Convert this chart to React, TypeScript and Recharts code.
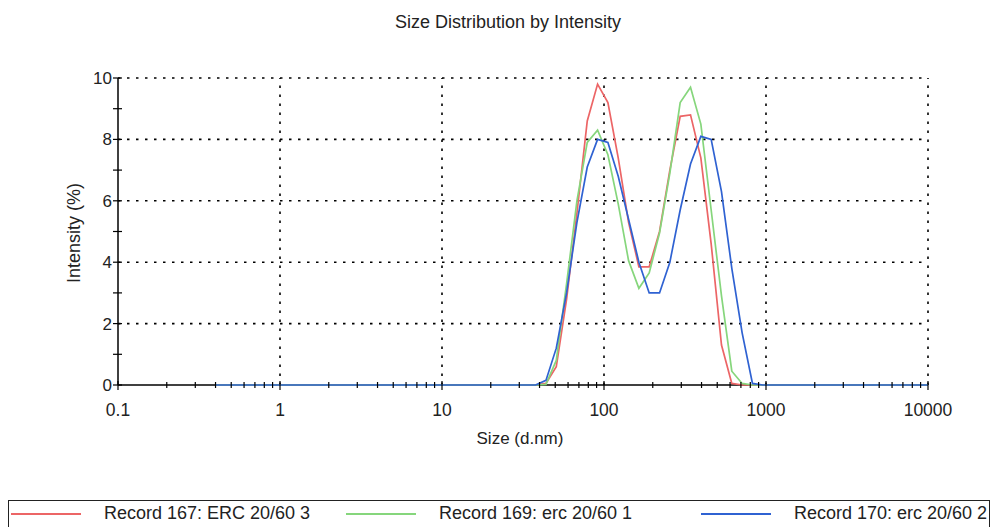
import React from 'react'
import { LineChart, Line, XAxis, YAxis, ReferenceLine } from 'recharts'

// size bins (d.nm)
const sizes = [
  0.4, 0.4632, 0.5365, 0.6213, 0.7195, 0.8332, 0.9649, 1.117, 1.294, 1.499,
  1.736, 2.01, 2.328, 2.696, 3.122, 3.615, 4.187, 4.849, 5.615, 6.503,
  7.531, 8.721, 10.1, 11.7, 13.54, 15.69, 18.17, 21.04, 24.36, 28.21,
  32.67, 37.84, 43.82, 50.75, 58.77, 68.06, 78.82, 91.28, 105.7, 122.4,
  141.8, 164.2, 190.1, 220.2, 255.0, 295.3, 342.0, 396.1, 458.7, 531.2,
  615.1, 712.4, 825.0, 955.4, 1106, 1281, 1484, 1718, 1990, 2305,
  2669, 3091, 3580, 4145, 4801, 5560, 6439, 7456, 8635, 10000,
]

// Intensity (%) per bin
const record167 = [
  0, 0, 0, 0, 0, 0, 0, 0, 0, 0,
  0, 0, 0, 0, 0, 0, 0, 0, 0, 0,
  0, 0, 0, 0, 0, 0, 0, 0, 0, 0,
  0, 0, 0.05, 0.6, 2.8, 5.6, 8.6, 9.8, 9.2, 7.4,
  5.3, 3.85, 3.85, 5.0, 7.0, 8.75, 8.8, 7.4, 4.6, 1.3,
  0.05, 0, 0, 0, 0, 0, 0, 0, 0, 0,
  0, 0, 0, 0, 0, 0, 0, 0, 0, 0,
]
const record169 = [
  0, 0, 0, 0, 0, 0, 0, 0, 0, 0,
  0, 0, 0, 0, 0, 0, 0, 0, 0, 0,
  0, 0, 0, 0, 0, 0, 0, 0, 0, 0,
  0, 0, 0.02, 0.8, 3.3, 6.0, 7.9, 8.3, 7.5, 5.9,
  4.05, 3.15, 3.65, 4.95, 6.9, 9.2, 9.7, 8.5, 5.7, 2.9,
  0.45, 0.05, 0, 0, 0, 0, 0, 0, 0, 0,
  0, 0, 0, 0, 0, 0, 0, 0, 0, 0,
]
const record170 = [
  0, 0, 0, 0, 0, 0, 0, 0, 0, 0,
  0, 0, 0, 0, 0, 0, 0, 0, 0, 0,
  0, 0, 0, 0, 0, 0, 0, 0, 0, 0,
  0, 0, 0.15, 1.2, 3.0, 5.3, 7.1, 8.0, 7.9, 6.8,
  5.4, 4.0, 3.0, 3.0, 4.0, 5.7, 7.2, 8.1, 8.0, 6.3,
  3.8, 1.7, 0.05, 0, 0, 0, 0, 0, 0, 0,
  0, 0, 0, 0, 0, 0, 0, 0, 0, 0,
]

const majorX = [0.1, 1, 10, 100, 1000, 10000]
const minorX = [
  0.2, 0.3, 0.4, 0.5, 0.6, 0.7, 0.8, 0.9,
  2, 3, 4, 5, 6, 7, 8, 9,
  20, 30, 40, 50, 60, 70, 80, 90,
  200, 300, 400, 500, 600, 700, 800, 900,
  2000, 3000, 4000, 5000, 6000, 7000, 8000, 9000,
]
const majorY = [0, 2, 4, 6, 8, 10]
const minorY = [1, 3, 5, 7, 9]
const gridX = [1, 10, 100, 1000, 10000]
const gridY = [2, 4, 6, 8, 10]

const series = [
  { key: 'r167', name: 'Record 167: ERC 20/60 3', color: '#ec6566', values: record167 },
  { key: 'r169', name: 'Record 169: erc 20/60 1', color: '#86d67c', values: record169 },
  { key: 'r170', name: 'Record 170: erc 20/60 2', color: '#2f62d2', values: record170 },
]
const legendLeft = [2, 337, 692]

const data = sizes.map((s, i) => {
  const row: any = { size: s }
  series.forEach(sr => { row[sr.key] = sr.values[i] })
  return row
})

const FONT = '"Liberation Sans", Arial, sans-serif'

function XTick({ x, y, payload }: any) {
  const major = majorX.includes(payload.value)
  if (!major) return <line x1={x} x2={x} y1={y - 3} y2={y + 3} stroke="#000" strokeWidth={1.2} />
  return (
    <g>
      <line x1={x} x2={x} y1={y - 4} y2={y + 5} stroke="#000" strokeWidth={1.2} />
      <text x={x} y={y + 31} textAnchor="middle" fontSize={17.5} fill="#222" fontFamily={FONT}>
        {String(payload.value)}
      </text>
    </g>
  )
}

function YTick({ x, y, payload }: any) {
  const major = majorY.includes(payload.value)
  return (
    <g>
      <line x1={x - 5} x2={x + 4} y1={y} y2={y} stroke="#000" strokeWidth={1.2} />
      {major && (
        <text x={x - 6} y={y + 6} textAnchor="end" fontSize={17} fill="#222" fontFamily={FONT}>
          {payload.value}
        </text>
      )}
    </g>
  )
}

export default function App() {
  return (
    <div style={{ position: 'absolute', left: 0, top: 0, width: 992, height: 527, background: '#fff', overflow: 'hidden', fontFamily: FONT }}>
      <div style={{ position: 'absolute', left: 0, width: 1016, top: 12, textAlign: 'center', fontSize: 18, color: '#222' }}>
        Size Distribution by Intensity
      </div>
      <div style={{ position: 'absolute', left: 74, top: 233, transform: 'translate(-50%, -50%) rotate(-90deg)', fontSize: 18, color: '#222', whiteSpace: 'nowrap' }}>
        Intensity (%)
      </div>
      <div style={{ position: 'absolute', left: 0, width: 1040, top: 429, textAlign: 'center', fontSize: 17, color: '#222' }}>
        Size (d.nm)
      </div>

      <LineChart width={992} height={470} data={data} margin={{ top: 78, right: 64, bottom: 45, left: 58 }}>
        <XAxis
          dataKey="size"
          type="number"
          scale="log"
          domain={[0.1, 10000]}
          ticks={[...majorX, ...minorX]}
          interval={0}
          allowDataOverflow
          height={40}
          tickSize={0}
          tickMargin={0}
          tickLine={false}
          tick={<XTick />}
          axisLine={{ stroke: '#000', strokeWidth: 1.5 }}
        />
        <YAxis
          type="number"
          domain={[0, 10]}
          ticks={[...majorY, ...minorY]}
          interval={0}
          width={60}
          tickSize={0}
          tickMargin={0}
          tickLine={false}
          tick={<YTick />}
          axisLine={{ stroke: '#000', strokeWidth: 1.5 }}
        />
        {gridY.map(v => (
          <ReferenceLine key={'gy' + v} y={v} stroke="#000" strokeWidth={1.6} strokeDasharray="2.5 6.5" />
        ))}
        {gridX.map(v => (
          <ReferenceLine key={'gx' + v} x={v} stroke="#000" strokeWidth={1.6} strokeDasharray="2.5 6.5" />
        ))}
        {series.map((sr, i) => (
          <Line
            key={sr.key}
            dataKey={sr.key}
            name={sr.name}
            type="linear"
            stroke={sr.color}
            strokeWidth={1.7}
            dot={false}
            isAnimationActive={false}
            {...({ zIndex: 1000 + i } as any)}
          />
        ))}
      </LineChart>

      <div style={{ position: 'absolute', left: 8, top: 500, width: 982, height: 50, border: '1.5px solid #222', boxSizing: 'border-box', overflow: 'hidden' }}>
        {series.map((sr, i) => (
          <div key={sr.key} style={{ position: 'absolute', top: 2, left: legendLeft[i], display: 'flex', alignItems: 'center', fontSize: 18, color: '#222', whiteSpace: 'nowrap' }}>
            <span style={{ display: 'inline-block', width: 70, height: 0, borderTop: `2px solid ${sr.color}`, marginRight: 23 }} />
            {sr.name}
          </div>
        ))}
      </div>
    </div>
  )
}
